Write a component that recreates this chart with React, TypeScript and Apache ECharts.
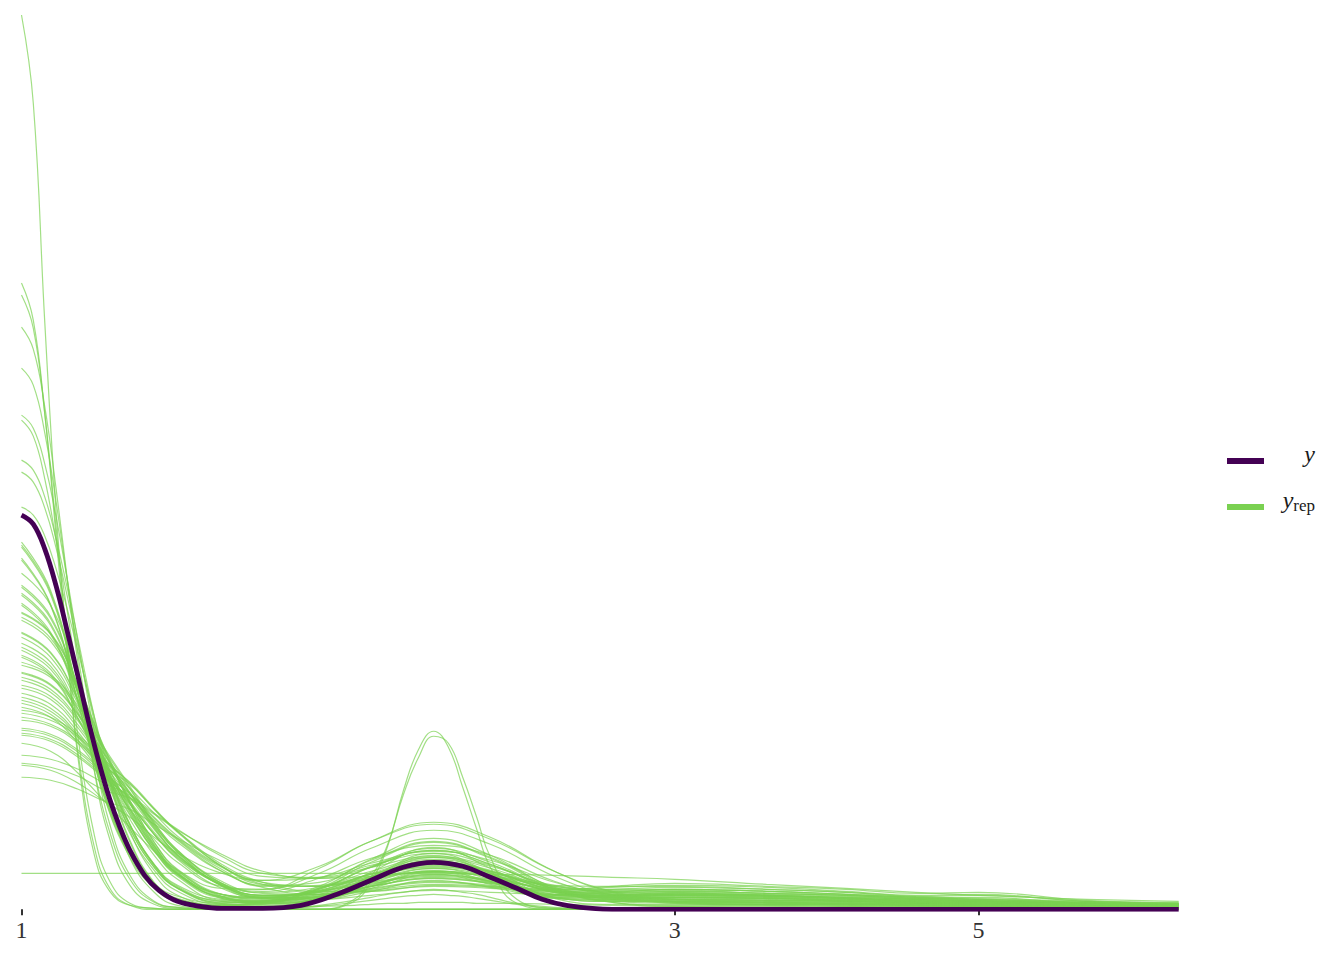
import React, { useEffect, useRef } from "react";
import * as echarts from "echarts";

// x axis (log scale in the original plot)
const xTicks = [1, 3, 5];
const xMin = 1;
const xMax = 7;

// evaluation grids of the density curves
const xObs = [1, 1.02, 1.04, 1.06, 1.08, 1.1, 1.12, 1.14, 1.16, 1.18, 1.2, 1.23, 1.26, 1.3, 1.35, 1.4, 1.5, 1.6, 1.7, 1.8, 1.9, 2, 2.1, 2.2, 2.3, 2.4, 2.5, 2.7, 3, 4, 5, 6, 7];
const xWide = [1, 1.05, 1.1, 1.15, 1.2, 1.25, 1.3, 1.4, 1.5, 1.65, 1.8, 2, 2.2, 2.45, 2.7, 3, 3.5, 4, 4.5, 5, 6, 7];
const xNarrow = [1, 1.02, 1.04, 1.06, 1.08, 1.1, 1.13, 1.16, 1.2, 1.25, 1.3, 1.4, 1.5, 1.65, 1.75, 1.8, 1.85, 1.9, 1.95, 2, 2.05, 2.1, 2.15, 2.2, 2.3, 2.45, 2.7, 3, 3.5, 4, 5, 6, 7];

// observed density (y), on xObs
const yObs = [394, 385, 360, 323, 278, 232, 186, 145, 110, 82, 59, 34, 19, 8, 3, 1, 1, 4, 15, 29, 42, 47, 43, 32, 21, 10, 4, 0, 0, 0, 0, 0, 0];

// replicated densities (y_rep), wide bandwidth, on xWide
const yRepWide = [
  [367, 319, 217, 117, 56, 24, 11, 4, 5, 9, 21, 35, 25, 11, 10, 12, 11, 9, 7, 6, 4, 3],
  [364, 317, 215, 116, 55, 23, 10, 4, 7, 20, 42, 59, 45, 20, 10, 8, 7, 6, 5, 4, 3, 2],
  [362, 315, 214, 115, 58, 26, 13, 6, 8, 12, 20, 27, 23, 15, 15, 16, 14, 12, 10, 8, 6, 4],
  [351, 305, 207, 112, 54, 23, 10, 4, 5, 11, 30, 49, 34, 12, 10, 10, 9, 8, 6, 5, 4, 3],
  [349, 304, 206, 111, 52, 21, 8, 4, 8, 18, 29, 38, 32, 18, 10, 7, 5, 5, 4, 3, 2, 2],
  [336, 304, 230, 148, 85, 44, 21, 5, 3, 12, 37, 62, 41, 11, 5, 5, 5, 4, 3, 3, 2, 1],
  [324, 293, 222, 143, 85, 45, 23, 8, 7, 13, 23, 31, 26, 15, 14, 14, 13, 11, 8, 7, 5, 4],
  [322, 291, 221, 142, 84, 44, 22, 7, 7, 17, 32, 44, 35, 17, 11, 10, 9, 8, 6, 5, 4, 3],
  [316, 286, 216, 139, 84, 45, 24, 10, 8, 13, 18, 23, 21, 17, 17, 18, 16, 14, 11, 12, 6, 5],
  [314, 284, 215, 138, 81, 42, 21, 6, 4, 11, 32, 54, 36, 12, 8, 8, 7, 6, 5, 4, 3, 2],
  [306, 277, 210, 135, 80, 42, 21, 8, 6, 13, 25, 35, 28, 15, 12, 12, 11, 9, 7, 6, 4, 3],
  [304, 275, 208, 134, 76, 39, 18, 5, 6, 21, 47, 67, 51, 20, 7, 4, 4, 3, 2, 2, 1, 1],
  [297, 276, 224, 161, 109, 67, 39, 13, 7, 9, 18, 29, 22, 12, 13, 15, 14, 11, 9, 8, 5, 4],
  [296, 275, 223, 160, 106, 64, 36, 13, 11, 21, 35, 45, 38, 21, 12, 8, 6, 5, 4, 4, 2, 2],
  [292, 271, 220, 158, 106, 65, 37, 13, 9, 15, 29, 41, 33, 17, 11, 11, 10, 8, 7, 6, 4, 3],
  [289, 268, 218, 156, 108, 67, 40, 15, 10, 10, 14, 19, 17, 15, 17, 20, 18, 15, 12, 10, 7, 5],
  [277, 257, 209, 150, 100, 61, 35, 11, 6, 11, 31, 52, 36, 11, 9, 9, 8, 7, 5, 5, 3, 2],
  [276, 256, 208, 149, 102, 63, 36, 15, 12, 18, 27, 34, 30, 19, 15, 14, 12, 10, 8, 7, 5, 3],
  [272, 252, 205, 147, 97, 59, 33, 11, 8, 20, 42, 59, 45, 19, 8, 6, 5, 5, 4, 3, 2, 2],
  [266, 247, 200, 144, 98, 61, 35, 12, 8, 10, 24, 39, 28, 12, 12, 14, 13, 11, 8, 7, 5, 4],
  [262, 243, 197, 142, 100, 63, 38, 15, 11, 14, 21, 28, 24, 18, 20, 22, 20, 17, 13, 14, 8, 6],
  [259, 240, 195, 140, 95, 58, 34, 12, 9, 18, 35, 48, 38, 18, 12, 10, 9, 8, 6, 5, 4, 3],
  [254, 236, 191, 137, 90, 54, 30, 9, 8, 23, 50, 71, 54, 21, 7, 3, 3, 2, 2, 2, 1, 1],
  [252, 234, 190, 136, 94, 59, 35, 15, 12, 18, 26, 33, 29, 21, 18, 17, 14, 12, 10, 8, 6, 4],
  [247, 234, 203, 161, 123, 87, 59, 26, 14, 17, 31, 43, 34, 17, 12, 12, 11, 9, 7, 6, 4, 3],
  [244, 232, 200, 159, 121, 85, 57, 23, 11, 13, 33, 56, 37, 12, 8, 8, 7, 6, 5, 4, 3, 2],
  [237, 225, 195, 155, 120, 86, 59, 26, 14, 15, 23, 32, 27, 18, 16, 18, 16, 14, 11, 9, 6, 5],
  [236, 224, 194, 154, 116, 82, 54, 26, 18, 31, 51, 64, 54, 28, 13, 7, 5, 4, 3, 3, 2, 1],
  [232, 220, 190, 151, 117, 83, 57, 24, 12, 11, 23, 38, 28, 13, 13, 15, 14, 11, 9, 8, 5, 4],
  [229, 217, 188, 149, 115, 81, 55, 24, 13, 19, 36, 50, 39, 19, 12, 10, 9, 8, 6, 5, 4, 3],
  [224, 213, 184, 146, 116, 84, 58, 28, 16, 15, 19, 25, 23, 20, 22, 24, 22, 18, 14, 15, 8, 6],
  [221, 210, 181, 144, 112, 80, 54, 25, 14, 19, 33, 46, 37, 19, 13, 13, 12, 10, 8, 7, 5, 3],
  [216, 205, 177, 141, 106, 75, 50, 21, 12, 21, 43, 61, 47, 20, 9, 7, 6, 5, 4, 4, 2, 2],
  [212, 201, 174, 138, 108, 77, 53, 24, 12, 12, 23, 37, 27, 14, 14, 17, 15, 13, 10, 9, 6, 4],
  [209, 198, 172, 136, 106, 75, 51, 25, 17, 22, 33, 42, 36, 23, 17, 15, 13, 11, 8, 7, 5, 4],
  [206, 195, 169, 134, 100, 70, 47, 23, 20, 36, 61, 79, 65, 33, 14, 6, 4, 3, 2, 2, 1, 1],
  [202, 192, 166, 132, 105, 75, 52, 24, 14, 15, 23, 31, 26, 18, 18, 20, 18, 15, 12, 10, 7, 5],
  [199, 192, 174, 149, 126, 100, 77, 43, 25, 23, 35, 48, 38, 19, 12, 12, 11, 9, 7, 6, 4, 3],
  [196, 189, 172, 147, 127, 101, 78, 43, 25, 17, 27, 41, 30, 14, 14, 16, 14, 12, 10, 8, 6, 4],
  [192, 185, 168, 144, 121, 96, 73, 43, 29, 32, 46, 58, 49, 27, 15, 10, 8, 7, 5, 5, 3, 2],
  [189, 183, 166, 142, 125, 100, 78, 45, 27, 18, 18, 24, 22, 19, 23, 26, 23, 20, 16, 17, 9, 7],
  [181, 175, 159, 136, 115, 91, 70, 40, 23, 24, 38, 52, 41, 20, 13, 12, 11, 9, 7, 6, 4, 3],
  [179, 173, 157, 134, 116, 92, 71, 42, 27, 23, 31, 38, 34, 23, 19, 19, 16, 14, 11, 9, 6, 5],
  [176, 170, 154, 132, 111, 88, 67, 38, 24, 27, 49, 68, 52, 22, 11, 8, 7, 6, 5, 4, 3, 2],
  [174, 168, 152, 131, 112, 89, 69, 38, 22, 15, 29, 46, 33, 14, 13, 15, 14, 11, 9, 8, 5, 4],
  [166, 158, 136, 108, 82, 58, 39, 21, 20, 41, 68, 87, 72, 38, 17, 8, 5, 5, 4, 3, 2, 2],
  [154, 150, 140, 126, 114, 96, 80, 53, 36, 32, 44, 56, 44, 22, 15, 14, 13, 11, 8, 7, 5, 4],
  [146, 142, 133, 119, 111, 95, 79, 55, 38, 31, 33, 37, 33, 24, 23, 23, 20, 17, 13, 11, 8, 6],
  [144, 139, 126, 108, 92, 72, 56, 36, 29, 43, 68, 85, 70, 38, 18, 10, 7, 6, 5, 4, 3, 2],
  [132, 129, 120, 108, 100, 85, 71, 48, 33, 31, 42, 53, 43, 24, 20, 20, 18, 15, 12, 10, 7, 5],
];

// replicated densities (y_rep), narrow bandwidth, on xNarrow
const yRepNarrow = [
  [894, 806, 586, 397, 262, 150, 55, 18, 4, 1, 0, 0, 0, 0, 0, 0, 0, 0, 0, 0, 0, 0, 0, 0, 0, 0, 0, 0, 0, 0, 0, 0, 0],
  [626, 589, 495, 372, 253, 156, 63, 21, 4, 0, 0, 0, 0, 0, 8, 28, 62, 118, 160, 178, 162, 122, 80, 42, 6, 0, 0, 0, 0, 0, 0, 0, 0],
  [614, 581, 495, 381, 267, 171, 75, 28, 6, 1, 0, 0, 0, 0, 10, 32, 64, 114, 152, 173, 166, 132, 92, 52, 10, 1, 0, 0, 0, 0, 0, 0, 0],
  [582, 560, 502, 420, 330, 244, 139, 70, 24, 5, 1, 0, 0, 0, 0, 0, 0, 0, 0, 0, 0, 0, 0, 0, 0, 0, 0, 0, 0, 0, 0, 0, 0],
  [541, 524, 476, 407, 329, 253, 155, 85, 34, 8, 2, 0, 0, 0, 0, 0, 0, 0, 0, 0, 0, 0, 0, 0, 0, 0, 0, 0, 0, 0, 0, 0, 0],
  [494, 481, 445, 392, 330, 266, 178, 110, 51, 17, 4, 0, 0, 0, 0, 0, 0, 0, 0, 0, 0, 0, 0, 0, 0, 0, 0, 0, 0, 0, 0, 0, 0],
  [489, 473, 430, 368, 298, 229, 140, 77, 30, 7, 2, 0, 0, 3, 7, 9, 11, 13, 14, 15, 14, 13, 11, 9, 5, 1, 0, 0, 0, 0, 0, 0, 0],
  [449, 439, 412, 370, 321, 269, 193, 129, 69, 27, 9, 1, 0, 0, 0, 0, 0, 0, 0, 0, 0, 0, 0, 0, 0, 0, 0, 0, 0, 0, 0, 0, 0],
  [437, 427, 401, 361, 313, 262, 188, 126, 67, 26, 9, 1, 0, 4, 9, 12, 15, 17, 19, 20, 19, 17, 15, 12, 6, 2, 0, 0, 0, 0, 0, 0, 0],
  [402, 394, 373, 340, 300, 257, 193, 136, 78, 35, 14, 3, 2, 3, 4, 5, 6, 6, 7, 7, 7, 7, 6, 6, 6, 5, 4, 3, 2, 2, 1, 1, 1],
];

// one nearly flat replicated density, on xWide
const yRepFlat = [36, 36, 36, 36, 36, 36, 36, 36, 36, 36, 36, 36, 35, 34, 32, 30, 25, 21, 17, 14, 10, 8];

const COLOR_Y = "#440154";
const COLOR_YREP = "#7AD151";

const toPoints = (xs: number[], ys: number[]) => xs.map((x, i) => [Math.log(x), ys[i]]);

export default function App() {
  const ref = useRef<HTMLDivElement>(null);

  useEffect(() => {
    if (!ref.current) return;
    const chart = echarts.init(ref.current, null, { renderer: "svg" });

    const repLine = (data: number[][]) => ({
      type: "line",
      name: "yrep",
      data,
      showSymbol: false,
      symbol: "none",
      smooth: 0.45,
      silent: true,
      z: 2,
      lineStyle: { color: COLOR_YREP, width: 1.2, opacity: 0.7 },
    });

    const series: any[] = [];
    yRepWide.forEach((ys) => series.push(repLine(toPoints(xWide, ys))));
    yRepNarrow.forEach((ys) => series.push(repLine(toPoints(xNarrow, ys))));
    series.push(repLine(toPoints(xWide, yRepFlat)));
    series.push({
      type: "line",
      name: "y",
      data: toPoints(xObs, yObs),
      showSymbol: false,
      symbol: "none",
      smooth: 0.4,
      silent: true,
      z: 5,
      lineStyle: { color: COLOR_Y, width: 4.8 },
    });

    const tickPos = xTicks.map((t) => Math.log(t));

    chart.setOption({
      animation: false,
      grid: { left: 21.5, right: 165.3, top: 9, bottom: 50.7, outerBoundsMode: "none", containLabel: false },
      xAxis: {
        type: "value",
        min: Math.log(xMin),
        max: Math.log(xMax),
        offset: 2,
        axisLine: { show: false },
        splitLine: { show: false },
        axisTick: { show: true, length: 6, customValues: tickPos, lineStyle: { color: "#333333", width: 2 } },
        axisLabel: {
          customValues: tickPos,
          formatter: (v: number) => String(Math.round(Math.exp(v))),
          color: "#333333",
          fontFamily: "Liberation Serif",
          fontSize: 24,
          margin: 7,
        },
      },
      yAxis: { type: "value", min: 0, max: 900, show: false },
      series,
      graphic: [
        { type: "rect", shape: { x: 1227, y: 458, width: 37, height: 6 }, style: { fill: COLOR_Y } },
        { type: "rect", shape: { x: 1227, y: 504, width: 37, height: 6 }, style: { fill: COLOR_YREP } },
        {
          type: "text",
          x: 1315,
          y: 454,
          style: {
            text: "y",
            fontFamily: "Liberation Serif",
            fontStyle: "italic",
            fontSize: 24,
            fill: "#1a1a1a",
            align: "right",
            verticalAlign: "middle",
          },
        },
        {
          type: "text",
          x: 1315,
          y: 501,
          style: {
            text: "{a|y}{b|rep}",
            align: "right",
            verticalAlign: "middle",
            fill: "#1a1a1a",
            rich: {
              a: { fontFamily: "Liberation Serif", fontStyle: "italic", fontSize: 24, fill: "#1a1a1a", verticalAlign: "top" },
              b: { fontFamily: "Liberation Serif", fontSize: 17, fill: "#1a1a1a", verticalAlign: "bottom", padding: [9, 0, 0, 0] },
            },
          },
        },
      ],
    });

    return () => chart.dispose();
  }, []);

  return <div ref={ref} style={{ position: "absolute", left: 0, top: 0, width: 1344, height: 960 }} />;
}
